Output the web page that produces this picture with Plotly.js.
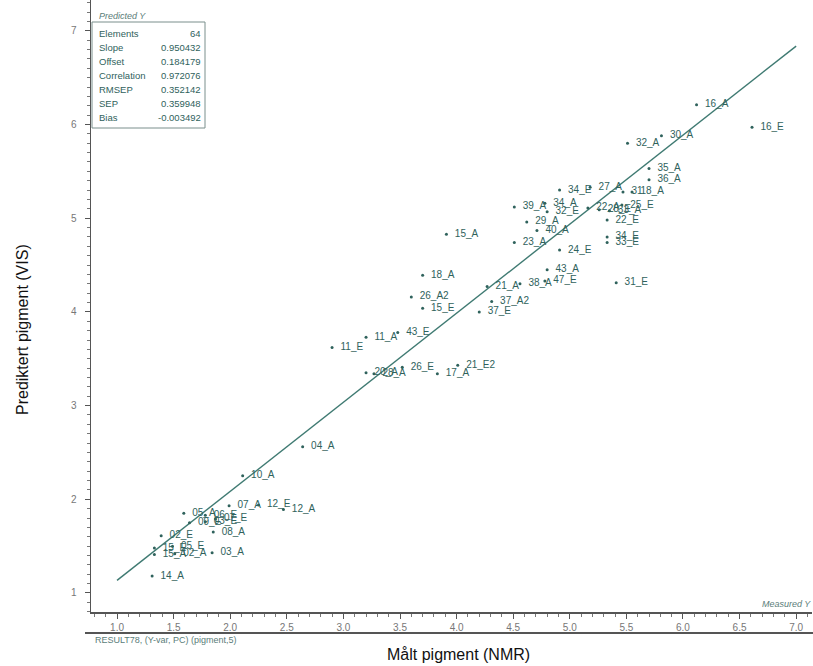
<!DOCTYPE html>
<html>
<head>
<meta charset="utf-8">
<script src="https://cdn.plot.ly/plotly-3.0.1.min.js"></script>
<style>html,body{margin:0;padding:0;background:#fff;}#chart{width:813px;height:666px;}</style>
</head>
<body>
<div id="chart"></div>
<script>
// ---- data ----
const sampleLabels = [
  "14_A","15_A","02_A","15_E","05_E","02_E","03_A","08_A","09_E","03_E","05_A","06_E","07_E","07_A","12_E","12_A","10_A","04_A",
  "11_E","11_A","43_E","20_A","28_A","26_E","17_A","21_E2","26_A2","15_E","18_A","15_A","37_E","37_A2","21_A","38_A","47_E","43_A","23_A","24_E","31_E",
  "39_A","34_A","34_E","27_A","32_E","29_A","40_A","22_A","28_E","33_A","31","18_A","25_E","22_E","34_E","33_E","35_A","36_A","32_A","30_A","16_A","16_E"
];
const measuredNMR = [
  1.31,1.33,1.51,1.33,1.49,1.39,1.84,1.85,1.64,1.78,1.59,1.78,1.87,1.99,2.25,2.47,2.11,2.64,
  2.90,3.20,3.48,3.20,3.27,3.52,3.83,4.01,3.60,3.70,3.70,3.91,4.20,4.31,4.27,4.56,4.78,4.80,4.51,4.91,5.41,
  4.51,4.78,4.91,5.18,4.80,4.62,4.71,5.16,5.26,5.35,5.47,5.55,5.46,5.33,5.33,5.33,5.70,5.70,5.51,5.81,6.12,6.61
];
const predictedVIS = [
  1.18,1.41,1.42,1.48,1.50,1.61,1.43,1.65,1.75,1.76,1.85,1.83,1.79,1.93,1.94,1.89,2.25,2.56,
  3.62,3.73,3.78,3.35,3.34,3.41,3.34,3.43,4.16,4.04,4.39,4.83,4.00,4.11,4.27,4.30,4.33,4.45,4.74,4.66,4.31,
  5.12,5.16,5.30,5.33,5.07,4.96,4.87,5.11,5.09,5.08,5.28,5.28,5.14,4.98,4.80,4.74,5.53,5.41,5.80,5.88,6.21,5.97
];
const statNames  = ["Elements","Slope","Offset","Correlation","RMSEP","SEP","Bias"];
const statValues = ["64","0.950432","0.184179","0.972076","0.352142","0.359948","-0.003492"];
const slope = 0.950432, offset = 0.184179;
const fitX = [1.0, 7.0];

// ---- styling / layout ----
const teal = "#2f625c";
const narrow = "Liberation Sans Narrow, Liberation Sans, Arial, sans-serif";
const L = 91, R = 812, T = 0, B = 612;           // plot area in pixels
const px = v => (v - L) / (R - L);
const py = v => (B - v) / (B - T);

const fitTrace = {
  x: fitX, y: fitX.map(v => offset + slope * v),
  mode: "lines", line: {color: "#3f7a72", width: 1.4},
  hoverinfo: "skip", showlegend: false
};
const ptsTrace = {
  x: measuredNMR, y: predictedVIS,
  text: sampleLabels.map(s => "\u00a0\u00a0" + s),
  mode: "markers+text", textposition: "middle right",
  marker: {size: 3, color: teal},
  textfont: {family: narrow, size: 10, color: teal},
  showlegend: false
};

const annotations = [];
statNames.forEach((n, i) => {
  const yy = 33 + i * 14.1;
  annotations.push({xref:"paper", yref:"paper", x: px(97), y: py(yy), xanchor:"left", yanchor:"middle",
    text: n, showarrow:false, font:{family: narrow, size: 9.5, color: teal}});
  annotations.push({xref:"paper", yref:"paper", x: px(203), y: py(yy), xanchor:"right", yanchor:"middle",
    text: statValues[i], showarrow:false, font:{family: narrow, size: 9.5, color: teal}});
});
annotations.push({xref:"paper", yref:"paper", x: px(97), y: py(16), xanchor:"left", yanchor:"middle",
  text:"<i>Predicted Y</i>", showarrow:false, font:{family: narrow, size: 9, color: "#5a7d79"}});
annotations.push({xref:"paper", yref:"paper", x: px(813), y: py(604), xanchor:"right", yanchor:"middle",
  text:"<i>Measured Y</i>", showarrow:false, font:{family: narrow, size: 9, color: "#5a7d79"}});
annotations.push({xref:"paper", yref:"paper", x: px(93), y: py(640), xanchor:"left", yanchor:"middle",
  text:"RESULT78, (Y-var, PC) (pigment,5)", showarrow:false, font:{family: narrow, size: 9, color: "#5a7d79"}});
annotations.push({xref:"paper", yref:"paper", x: px(458), y: py(654), xanchor:"center", yanchor:"middle",
  text:"Målt pigment (NMR)", showarrow:false, font:{family: "Liberation Sans, Arial, sans-serif", size: 16, color: "#111"}});
annotations.push({xref:"paper", yref:"paper", x: px(22), y: py(330), xanchor:"center", yanchor:"middle",
  text:"Prediktert pigment (VIS)", textangle:-90, showarrow:false, font:{family: "Liberation Sans, Arial, sans-serif", size: 16, color: "#111"}});

const shapes = [
  {type:"rect", xref:"paper", yref:"paper", x0: px(92), x1: px(205), y0: py(22), y1: py(128),
   line:{color:"#7a8f8c", width:1}, fillcolor:"rgba(0,0,0,0)"},
  {type:"line", xref:"paper", yref:"paper", x0: px(85), x1: px(813), y0: py(633), y1: py(633),
   line:{color:"#555", width:2}}
];

const axisCommon = {
  showgrid:false, zeroline:false, showline:true, linecolor:"#555", linewidth:1.5,
  ticks:"outside", ticklen:5, tickwidth:1, tickcolor:"#555",
  tickfont:{family: narrow, size: 10, color:"#777"},
  minor:{dtick:0.1, ticks:"outside", ticklen:3, tickcolor:"#777", tickwidth:1}
};

const layout = {
  width: 813, height: 666,
  margin: {l: L, r: 813 - R, t: T, b: 666 - B, pad: 0},
  paper_bgcolor:"#fff", plot_bgcolor:"#fff",
  xaxis: Object.assign({}, axisCommon, {range:[0.77, 7.14], tick0:1, dtick:0.5, tickformat:".1f"}),
  yaxis: Object.assign({}, axisCommon, {range:[0.797, 7.329], tick0:1, dtick:1, ticklabelstandoff:6}),
  annotations, shapes
};

Plotly.newPlot("chart", [fitTrace, ptsTrace], layout, {displayModeBar:false, staticPlot:true});
</script>
</body>
</html>
